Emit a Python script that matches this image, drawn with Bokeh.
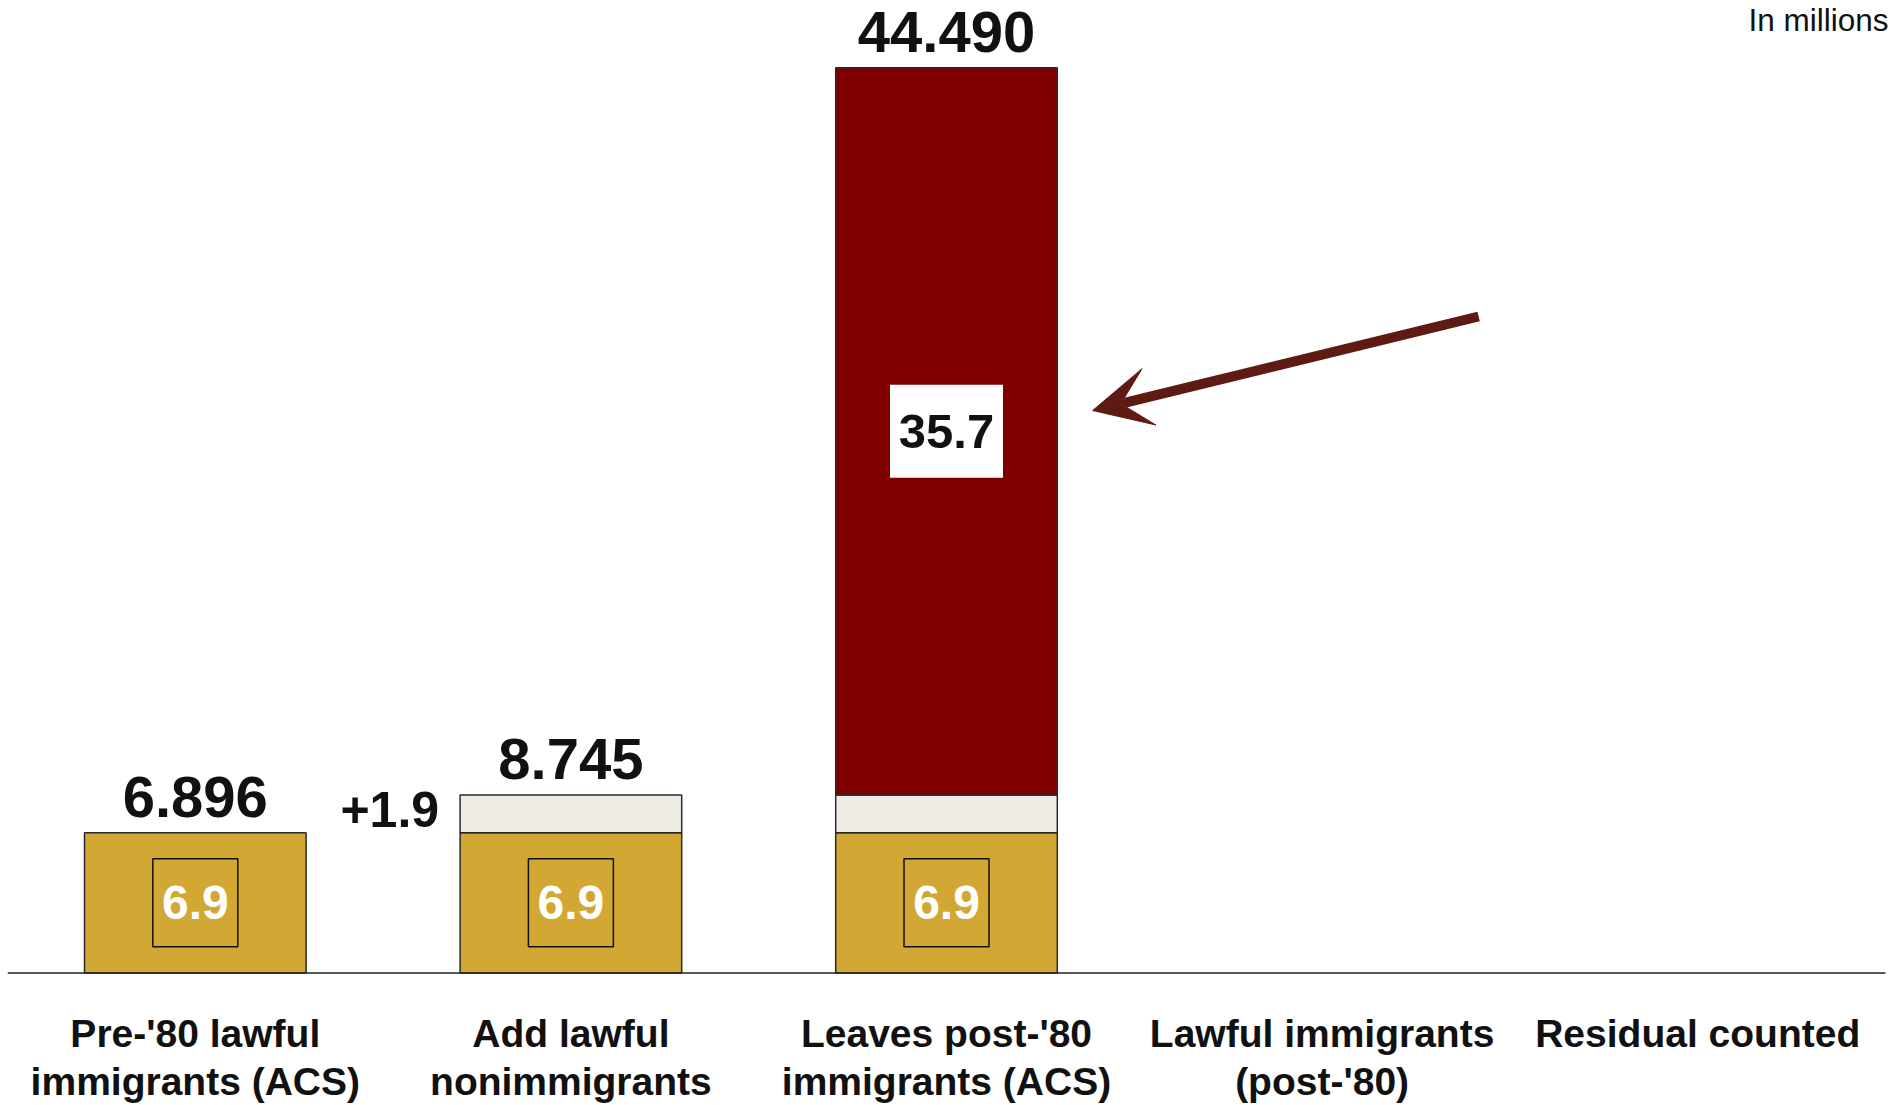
import numpy as np
from bokeh.plotting import figure
from bokeh.models import Range1d, Arrow, VeeHead
from bokeh.core.properties import value
from bokeh.embed import file_html
from bokeh.resources import INLINE

# ---------------- data ----------------
categories = [
    "Pre-'80 lawful\nimmigrants (ACS)",
    "Add lawful\nnonimmigrants",
    "Leaves post-'80\nimmigrants (ACS)",
    "Lawful immigrants\n(post-'80)",
    "Residual counted",
]
pre80_values = [6.896, 6.896, 6.896, 0.0, 0.0]
nonimmigrant_values = [0.0, 1.849, 1.849, 0.0, 0.0]
post80_values = [0.0, 0.0, 35.745, 0.0, 0.0]
total_labels = ["6.896", "8.745", "44.490", "", ""]
pre80_labels = ["6.9", "6.9", "6.9", "", ""]
nonimmigrant_label = "+1.9"
post80_label = "35.7"
unit_label = "In millions"

# ---------------- style ----------------
FONT = "Liberation Sans"
GOLD = "#D3A734"
LIGHT = "#EFECE6"
RED = "#800000"
ARROW_COLOR = "#5E1B13"
OUTLINE = "#2a2a2a"
TEXT = "#111111"
BAR_WIDTH = 0.59

W, H = 1891, 1105
LEFT = 7
PX_PER_CAT = 375.6
PX_PER_UNIT = 20.35
BASE_PX = 972.5

x = np.arange(len(categories), dtype=float)
pre80 = np.array(pre80_values)
nonimm = np.array(nonimmigrant_values)
post80 = np.array(post80_values)

p = figure(
    width=W, height=H,
    x_range=Range1d(-0.5, -0.5 + (W - LEFT) / PX_PER_CAT),
    y_range=Range1d(-(H - BASE_PX) / PX_PER_UNIT, BASE_PX / PX_PER_UNIT),
    x_axis_type=None, y_axis_type=None,
    toolbar_location=None, output_backend="svg",
    min_border=0, min_border_left=LEFT, outline_line_color=None,
    background_fill_color="white", border_fill_color="white",
)

def segment(bottom, height, color):
    m = height > 0
    p.vbar(x=x[m], bottom=bottom[m], top=(bottom + height)[m], width=BAR_WIDTH,
           fill_color=color, line_color=OUTLINE, line_width=1.5)

segment(np.zeros_like(pre80), pre80, GOLD)
segment(pre80, nonimm, LIGHT)
segment(pre80 + nonimm, post80, RED)

# baseline across the category band
p.line(x=[x[0] - 0.5, x[-1] + 0.5], y=[0, 0], line_color="#222222", line_width=1.6)

# inner boxes for pre-'80 values
m = np.array([s != "" for s in pre80_labels])
p.rect(x=x[m], y=(pre80 / 2)[m], width=85, height=88, width_units="screen", height_units="screen",
       fill_color=None, line_color="#111111", line_width=1.5)
p.text(x=x[m], y=(pre80 / 2)[m], text=[s for s in pre80_labels if s],
       text_font=value(FONT), text_font_style="bold", text_font_size="48px",
       text_color="white", text_align="center", text_baseline="middle")

# post-'80 box
mr = post80 > 0
mid_r = (pre80 + nonimm + post80 / 2)[mr]
p.rect(x=x[mr], y=mid_r, width=113, height=93, width_units="screen", height_units="screen",
       fill_color="white", line_color=None)
p.text(x=x[mr], y=mid_r, text=[post80_label],
       text_font=value(FONT), text_font_style="bold", text_font_size="49px",
       text_color=TEXT, text_align="center", text_baseline="middle")

# +1.9 label (first bar with a nonimmigrant segment)
i_add = int(np.argmax(nonimm > 0))
p.text(x=[x[i_add] - BAR_WIDTH / 2], y=[pre80[i_add] + nonimm[i_add] / 2], text=[nonimmigrant_label],
       x_offset=-21, y_offset=-4.5,
       text_font=value(FONT), text_font_style="bold", text_font_size="50px",
       text_color=TEXT, text_align="right", text_baseline="middle")

# totals on top
totals = pre80 + nonimm + post80
mt = totals > 0
p.text(x=x[mt], y=totals[mt], text=[s for s in total_labels if s], y_offset=-36,
       text_font=value(FONT), text_font_style="bold", text_font_size="58px",
       text_color=TEXT, text_align="center", text_baseline="middle")

# category labels below baseline (one text glyph per line)
line1 = [c.split("\n")[0] for c in categories]
line2 = [c.split("\n")[1] if "\n" in c else "" for c in categories]
for lines, off in ((line1, 60), (line2, 108)):
    p.text(x=x, y=np.zeros_like(x), text=lines, y_offset=off,
           text_font=value(FONT), text_font_style="bold", text_font_size="39px",
           text_color=TEXT, text_align="center", text_baseline="middle")

# unit note
p.text(x=[p.x_range.end], y=[p.y_range.end], text=[unit_label], x_offset=-3, y_offset=19,
       text_font=value(FONT), text_font_size="31.5px", text_color=TEXT,
       text_align="right", text_baseline="middle")

# arrow pointing at the post-'80 segment
i_r = int(np.argmax(post80 > 0))
tip_x = x[i_r] + BAR_WIDTH / 2 + 0.094
tip_y = pre80[i_r] + nonimm[i_r] + post80[i_r] * 0.5286
p.add_layout(Arrow(
    end=VeeHead(size=58, fill_color=ARROW_COLOR, line_color=ARROW_COLOR),
    x_start=tip_x + 1.0277, y_start=tip_y + 4.62, x_end=tip_x, y_end=tip_y,
    line_color=ARROW_COLOR, line_width=10,
))

open("out.html", "w").write(file_html(p, INLINE))
